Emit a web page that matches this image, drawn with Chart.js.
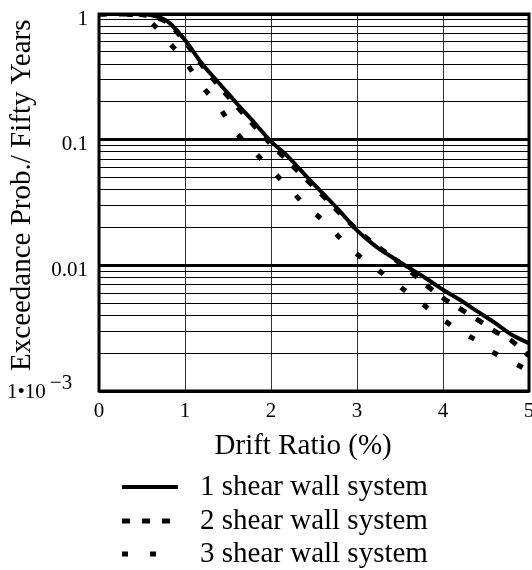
<!DOCTYPE html>
<html>
<head>
<meta charset="utf-8">
<script src="https://cdn.jsdelivr.net/npm/chart.js@4.4.1/dist/chart.umd.min.js"></script>
<style>
  html, body { margin: 0; padding: 0; background: #fff; }
  #wrap { width: 532px; height: 570px; position: relative; }
</style>
</head>
<body>
<div id="wrap"><canvas id="driftChart"></canvas></div>
<script>
const driftRatio = [0, 0.2, 0.4, 0.6, 0.8, 1.0, 1.2, 1.4, 1.6, 1.8, 2.0, 2.2, 2.4,
  2.6, 2.8, 3.0, 3.2, 3.4, 3.6, 3.8, 4.0, 4.2, 4.4, 4.6, 4.8, 5.0];

// exceedance probability in fifty years
const oneWall = [1, 1, 1, 0.98, 0.87, 0.62, 0.40, 0.28, 0.195, 0.138, 0.097, 0.073, 0.052,
  0.0375, 0.027, 0.019, 0.0145, 0.0117, 0.0096, 0.0079, 0.0064, 0.0053, 0.0043, 0.0035, 0.0028, 0.0024];
const twoWall = [1, 1, 1, 0.96, 0.85, 0.60, 0.39, 0.265, 0.185, 0.13, 0.092, 0.067, 0.049,
  0.036, 0.026, 0.0192, 0.0148, 0.0117, 0.0092, 0.0070, 0.0055, 0.0045, 0.0037, 0.0030, 0.0025, 0.0019];
const threeWall = [1, 1, 0.99, 0.86, 0.61, 0.42, 0.267, 0.18, 0.113, 0.081, 0.058, 0.042, 0.030,
  0.0229, 0.0166, 0.0123, 0.0097, 0.0076, 0.0060, 0.0047, 0.0037, 0.0030, 0.0025, 0.0020, 0.0017, 0.00145];

const seriesLabels = ['1 shear wall system', '2 shear wall system', '3 shear wall system'];

const xTicks = [0, 1, 2, 3, 4, 5];
const yDecades = [1, 0.1, 0.01, 0.001];
const yDecadeLabels = ['1', '0.1', '0.01', null]; // last one drawn by hand (superscript)
const minLabel = ['1\u202210', '\u22123'];

// every 1..9 x decade gets a grid line
const yGrid = [];
yDecades.slice(1).forEach(d => { for (let k = 1; k <= 9; k++) yGrid.push(+(k * d).toPrecision(3)); });
yGrid.push(1);

const isDecade = v => Math.abs(Math.log10(v) - Math.round(Math.log10(v))) < 1e-6;

const serif = "'Liberation Serif', 'Times New Roman', serif";
Chart.defaults.font.family = serif;
Chart.defaults.color = '#000';

const toPoints = arr => driftRatio.map((x, i) => ({ x: x, y: arr[i] }));

const extras = {
  id: 'extras',
  afterDraw(chart) {
    const { ctx, chartArea: a } = chart;
    ctx.save();
    // heavy frame
    ctx.strokeStyle = '#000';
    ctx.lineWidth = 3;
    ctx.setLineDash([]);
    ctx.strokeRect(a.left, a.top, a.right - a.left, a.bottom - a.top);

    // 1•10^-3 label
    const yMin = chart.scales.y.getPixelForValue(yDecades[3]);
    ctx.fillStyle = '#000';
    ctx.font = '21px ' + serif;
    ctx.textBaseline = 'middle';
    ctx.textAlign = 'left';
    ctx.fillText(minLabel[0], 7, yMin + 1);
    const w = ctx.measureText(minLabel[0]).width;
    ctx.fillText(minLabel[1], 7 + w + 4, yMin - 8);

    // legend
    const rows = [487, 521, 554];
    ctx.font = '29px ' + serif;
    chart.data.datasets.forEach((ds, i) => {
      ctx.lineWidth = ds.borderWidth;
      ctx.setLineDash(ds.borderDash || []);
      ctx.beginPath();
      ctx.moveTo(122, rows[i]);
      ctx.lineTo(178, rows[i]);
      ctx.stroke();
      ctx.setLineDash([]);
      ctx.fillText(ds.label, 200, rows[i]);
    });
    ctx.restore();
  }
};

new Chart(document.getElementById('driftChart'), {
  type: 'line',
  data: {
    datasets: [
      { label: seriesLabels[0], data: toPoints(oneWall), borderDash: [], borderWidth: 4 },
      { label: seriesLabels[1], data: toPoints(twoWall), borderDash: [8, 12], borderWidth: 5 },
      { label: seriesLabels[2], data: toPoints(threeWall), borderDash: [6, 22], borderWidth: 5 }
    ].map(d => Object.assign(d, {
      borderColor: '#000', pointRadius: 0,
      cubicInterpolationMode: 'monotone', fill: false
    }))
  },
  options: {
    responsive: true,
    maintainAspectRatio: false,
    animation: false,
    layout: { padding: { top: 14, right: 3, bottom: 106, left: 0 } },
    plugins: { legend: { display: false }, tooltip: { enabled: false } },
    scales: {
      x: {
        type: 'linear', min: 0, max: 5,
        afterBuildTicks: s => { s.ticks = xTicks.map(v => ({ value: v })); },
        afterFit: s => { s.height = 73; s.paddingLeft = 0; s.paddingRight = 0; },
        grid: { color: '#333', lineWidth: 1, drawTicks: false },
        border: { display: false },
        ticks: { padding: 8, autoSkip: false, maxRotation: 0, font: { size: 21 }, color: '#000' },
        title: { display: true, text: 'Drift Ratio (%)   ', font: { size: 29 }, color: '#000', padding: 0 }
      },
      y: {
        type: 'logarithmic', min: 0.001, max: 1,
        afterBuildTicks: s => { s.ticks = yGrid.map(v => ({ value: v })); },
        afterFit: s => { s.width = 99; s.paddingTop = 0; s.paddingBottom = 0; },
        grid: { color: '#000', lineWidth: c => (c.tick && isDecade(c.tick.value)) ? 3 : 1, drawTicks: false },
        border: { display: false },
        ticks: {
          autoSkip: false, padding: 11, labelOffset: 5, font: { size: 21 }, color: '#000',
          callback: v => {
            const i = yDecades.findIndex(d => Math.abs(d - v) < d * 1e-6);
            return i >= 0 && yDecadeLabels[i] ? yDecadeLabels[i] : '';
          }
        },
        title: { display: true, text: '  Exceedance Prob./ Fifty Years', font: { size: 29 }, color: '#000', padding: { top: 5, bottom: 0 } }
      }
    }
  },
  plugins: [extras]
});
</script>
</body>
</html>
